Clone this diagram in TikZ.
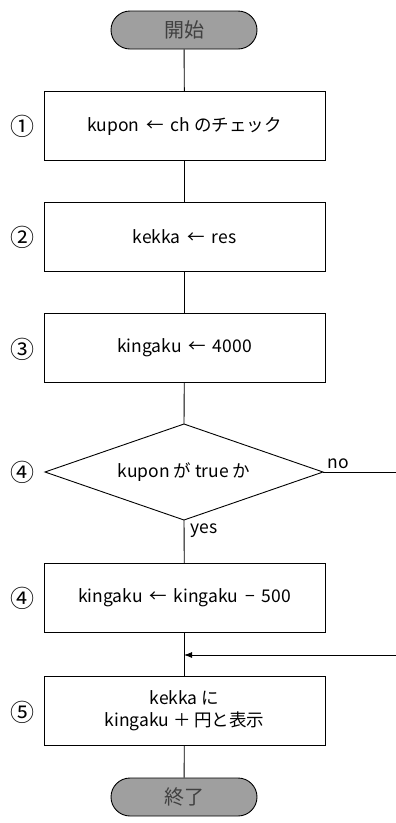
\documentclass[tikz,border=0pt]{standalone}
\usepackage{fontspec}
\setmainfont{Noto Sans CJK JP}
\usetikzlibrary{shapes.geometric,arrows.meta}
\begin{document}
\begin{tikzpicture}[x=1pt,y=-1pt,
  line width=0.9pt,
  every node/.style={font=\fontsize{17.5}{22}\selectfont},
  term/.style={draw, fill=gray!75, rounded corners=19pt, minimum width=146pt, minimum height=38pt, inner sep=0pt, text=black!75, font=\fontsize{20}{20}\selectfont},
  proc/.style={draw, fill=white, minimum width=281pt, minimum height=69pt, inner sep=0pt, align=center},
  numlab/.style={font=\fontsize{24}{24}\selectfont}]
\useasboundingbox (0,0) rectangle (396,823);
\node[term] (start) at (184,30) {開始};
\node[proc] (p1) at (184.5,126) {kupon\, ←\, ch のチェック};
\node[proc] (p2) at (184.5,237) {kekka\, ←\, res};
\node[proc] (p3) at (184.5,348) {kingaku\, ←\, 4000};
\coordinate (dt) at (184,424);
\coordinate (dl) at (45,472);
\coordinate (dr) at (323,472);
\coordinate (db) at (184,520);
\draw (dt) -- (dr) -- (db) -- (dl) -- cycle;
\node (dtext) at (184,472) {kupon が true か};
\node[proc] (p4) at (184.5,598) {kingaku\, ←\, kingaku\, −\, 500};
\node[proc] (p5) at (184.5,711) {kekka に\\kingaku ＋ 円と表示};
\node[term] (end) at (184,797) {終了};
\coordinate (nr) at (396,472);
\coordinate (ar) at (396,655);
\coordinate (aj) at (184,655);
\draw (start) -- (p1);
\draw (p1) -- (p2);
\draw (p2) -- (p3);
\draw (p3) -- (dt);
\draw (db) -- (p4);
\draw (p4) -- (p5);
\draw (p5) -- (end);
\draw (dr) -- (nr);
\draw[-{Latex[length=8pt,width=6pt]}] (ar) -- (aj);
\node[anchor=south west, inner sep=1pt] (no) at (326,470) {no};
\node[anchor=north west, inner sep=1pt] (yes) at (189,522) {yes};
\node[numlab] (n1) at (22,126) {①};
\node[numlab] (n2) at (22,237) {②};
\node[numlab] (n3) at (22,349) {③};
\node[numlab] (n4a) at (22,472) {④};
\node[numlab] (n4b) at (22,598) {④};
\node[numlab] (n5) at (22,712) {⑤};
\end{tikzpicture}
\end{document}
